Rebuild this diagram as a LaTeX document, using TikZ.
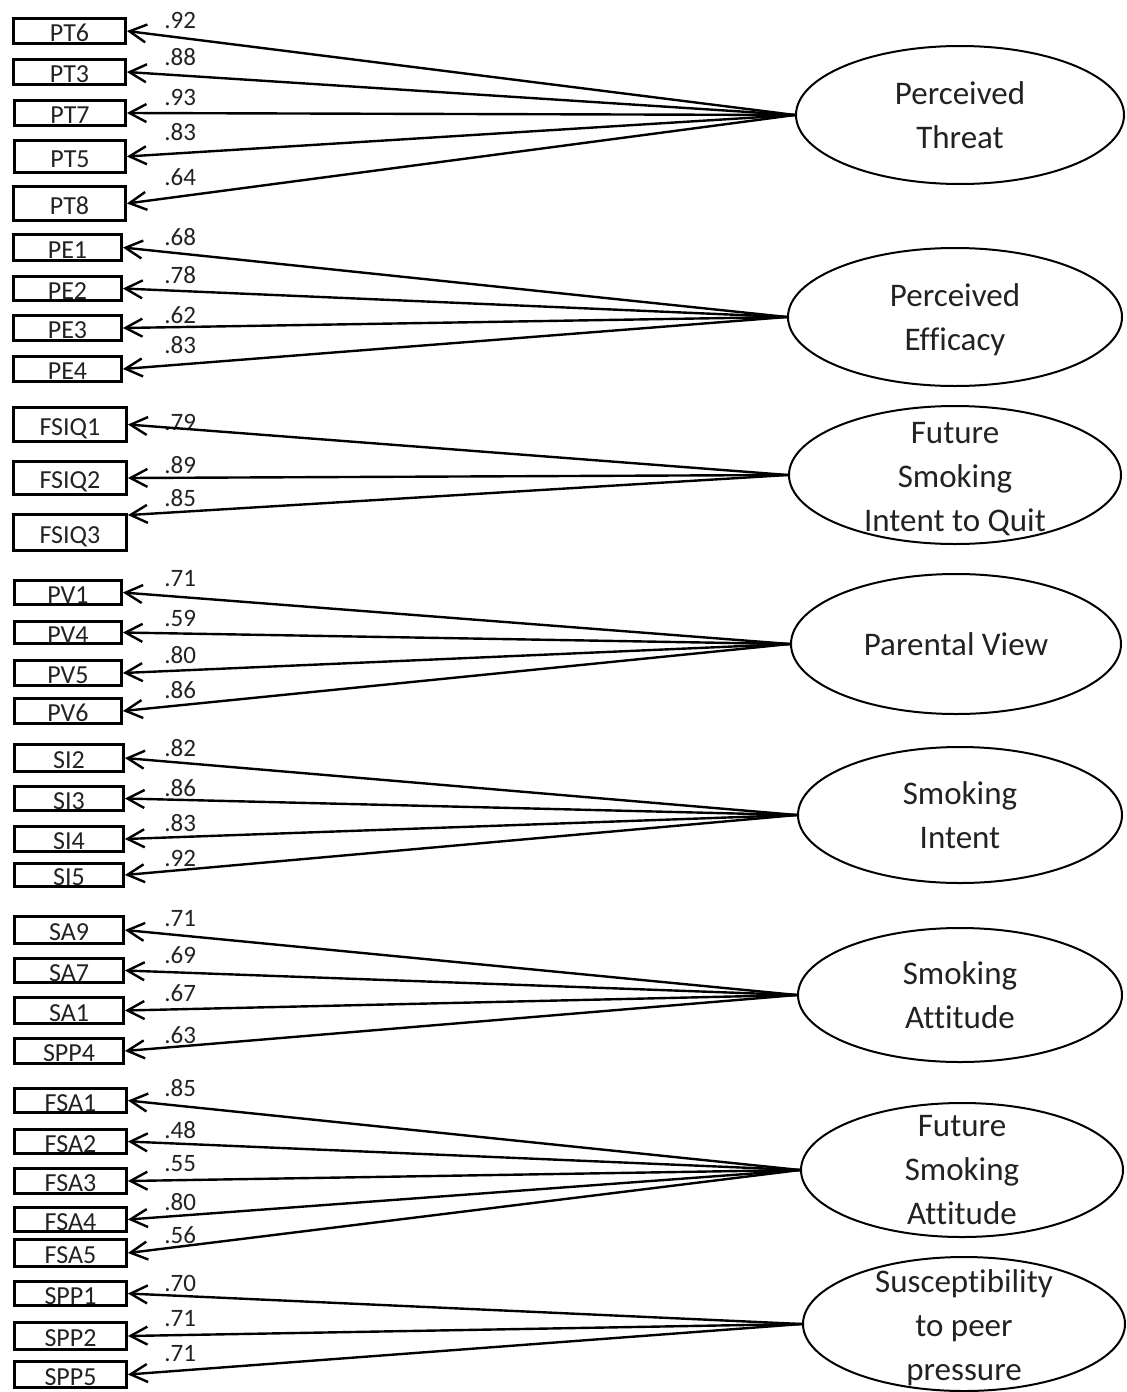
\documentclass[tikz,border=0pt]{standalone}
\usepackage{fontspec}
\setmainfont{Carlito}[Ligatures={NoCommon}]
\usetikzlibrary{shapes.geometric,arrows.meta}
\definecolor{inkgray}{HTML}{222222}
\newcommand\obsnode[6]{%
  \pgfmathsetmacro\obsw{(#4-#2-3)*0.5}%
  \pgfmathsetmacro\obsh{(#5-#3-3)*0.5}%
  \node[obs, minimum width=\obsw pt, minimum height=\obsh pt] (#1) at ({(#2+#4)/2},{(#3+#5)/2}) {#6};%
}
\newcommand\latnode[7]{%
  \pgfmathsetmacro\latw{(2*#4-2)*0.5}%
  \pgfmathsetmacro\lath{(2*#5-2)*0.5}%
  \node[lat, minimum width=\latw pt, minimum height=\lath pt] (#1) at (#2,#3) {};%
  \node[lattext, yshift=#6pt] (#1-t) at (#1.center) {#7};%
}
\newcommand\wtnode[4]{%
  \node[wt] (#1) at (#2,#3) {#4};%
}
\begin{document}
\begin{tikzpicture}[x=0.5pt,y=-0.5pt,
  obs/.style={draw, line width=1.4pt, rectangle, inner sep=0pt, text height=10.5pt, text depth=0pt, text=inkgray, font=\fontsize{13}{15}\selectfont},
  lat/.style={draw, line width=1pt, ellipse, inner sep=0pt},
  lattext/.style={align=center, inner sep=0pt, text=inkgray, font=\fontsize{16.5}{22}\selectfont},
  wt/.style={anchor=base west, inner sep=0pt, text=inkgray, font=\fontsize{12.5}{14}\selectfont},
  load/.style={line width=1.2pt, -{Straight Barb[length=8.5pt,width=9pt]}}
]
\useasboundingbox (0,0) rectangle (1126,1392);

% observed indicators
\obsnode{pt6}{12}{17}{127}{45}{PT6}
\obsnode{pt3}{12}{58}{127}{86}{PT3}
\obsnode{pt7}{13}{99}{127}{127}{PT7}
\obsnode{pt5}{13}{139}{127}{174}{PT5}
\obsnode{pt8}{12}{185}{127}{222}{PT8}
\obsnode{pe1}{12}{233}{123}{262}{PE1}
\obsnode{pe2}{12}{275}{123}{302}{PE2}
\obsnode{pe3}{12}{314}{123}{342}{PE3}
\obsnode{pe4}{12}{355}{123}{383}{PE4}
\obsnode{fsiq1}{12}{406}{128}{443}{FSIQ1}
\obsnode{fsiq2}{12}{460}{128}{496}{FSIQ2}
\obsnode{fsiq3}{12}{513}{128}{552}{FSIQ3}
\obsnode{pv1}{13}{579}{123}{606}{PV1}
\obsnode{pv4}{13}{620}{123}{645}{PV4}
\obsnode{pv5}{13}{659}{123}{687}{PV5}
\obsnode{pv6}{13}{697}{123}{725}{PV6}
\obsnode{si2}{13}{743}{125}{773}{SI2}
\obsnode{si3}{13}{785}{125}{812}{SI3}
\obsnode{si4}{13}{825}{125}{853}{SI4}
\obsnode{si5}{13}{862}{125}{888}{SI5}
\obsnode{sa9}{13}{915}{125}{945}{SA9}
\obsnode{sa7}{13}{957}{125}{984}{SA7}
\obsnode{sa1}{13}{996}{125}{1025}{SA1}
\obsnode{spp4}{13}{1037}{125}{1065}{SPP4}
\obsnode{fsa1}{13}{1087}{128}{1114}{FSA1}
\obsnode{fsa2}{13}{1128}{128}{1155}{FSA2}
\obsnode{fsa3}{13}{1167}{128}{1195}{FSA3}
\obsnode{fsa4}{13}{1206}{128}{1233}{FSA4}
\obsnode{fsa5}{13}{1238}{128}{1268}{FSA5}
\obsnode{spp1}{13}{1280}{128}{1307}{SPP1}
\obsnode{spp2}{13}{1321}{128}{1351}{SPP2}
\obsnode{spp5}{13}{1360}{128}{1389}{SPP5}

% latent factors
\latnode{lpt}{960}{115}{165}{70}{0}{Perceived\\Threat}
\latnode{lpe}{955}{317}{168}{70}{-1.5}{Perceived\\Efficacy}
\latnode{lfsiq}{955}{475}{167}{70}{-2}{Future\\Smoking\\Intent to Quit}
\latnode{lpv}{956}{644}{166}{71}{0}{Parental View}
\latnode{lsi}{960}{815}{163}{69}{0}{Smoking\\Intent}
\latnode{lsa}{960}{995}{163}{68}{0}{Smoking\\Attitude}
\latnode{lfsa}{962}{1170}{162}{68}{0}{Future\\Smoking\\Attitude}
\latnode{lspp}{964}{1324}{162}{68}{-2}{Susceptibility\\to peer\\pressure}

% loadings
\wtnode{w-pt6}{164}{28}{.92}
\wtnode{w-pt3}{164}{65}{.88}
\wtnode{w-pt7}{164}{105}{.93}
\wtnode{w-pt5}{164}{140}{.83}
\wtnode{w-pt8}{164}{185}{.64}
\wtnode{w-pe1}{164}{245}{.68}
\wtnode{w-pe2}{164}{283}{.78}
\wtnode{w-pe3}{164}{323}{.62}
\wtnode{w-pe4}{164}{353}{.83}
\wtnode{w-fsiq1}{164}{430}{.79}
\wtnode{w-fsiq2}{164}{473}{.89}
\wtnode{w-fsiq3}{164}{506}{.85}
\wtnode{w-pv1}{164}{586}{.71}
\wtnode{w-pv4}{164}{626}{.59}
\wtnode{w-pv5}{164}{663}{.80}
\wtnode{w-pv6}{164}{698}{.86}
\wtnode{w-si2}{164}{756}{.82}
\wtnode{w-si3}{164}{796}{.86}
\wtnode{w-si4}{164}{831}{.83}
\wtnode{w-si5}{164}{866}{.92}
\wtnode{w-sa9}{164}{926}{.71}
\wtnode{w-sa7}{164}{963}{.69}
\wtnode{w-sa1}{164}{1001}{.67}
\wtnode{w-spp4}{164}{1043}{.63}
\wtnode{w-fsa1}{164}{1096}{.85}
\wtnode{w-fsa2}{164}{1138}{.48}
\wtnode{w-fsa3}{164}{1171}{.55}
\wtnode{w-fsa4}{164}{1210}{.80}
\wtnode{w-fsa5}{164}{1243}{.56}
\wtnode{w-spp1}{164}{1291}{.70}
\wtnode{w-spp2}{164}{1326}{.71}
\wtnode{w-spp5}{164}{1361}{.71}

% connectors
\foreach \b in {pt6,pt3,pt7,pt5,pt8} \draw[load] (lpt.west) -- (\b.east);
\foreach \b in {pe1,pe2,pe3,pe4} \draw[load] (lpe.west) -- (\b.east);
\foreach \b in {fsiq1,fsiq2} \draw[load] (lfsiq.west) -- (\b.east);
\draw[load] (lfsiq.west) -- ([yshift=-1pt]fsiq3.north east);
\foreach \b in {pv1,pv4,pv5,pv6} \draw[load] (lpv.west) -- (\b.east);
\foreach \b in {si2,si3,si4,si5} \draw[load] (lsi.west) -- (\b.east);
\foreach \b in {sa9,sa7,sa1,spp4} \draw[load] (lsa.west) -- (\b.east);
\foreach \b in {fsa1,fsa2,fsa3,fsa4,fsa5} \draw[load] (lfsa.west) -- (\b.east);
\foreach \b in {spp1,spp2,spp5} \draw[load] (lspp.west) -- (\b.east);
\end{tikzpicture}
\end{document}
